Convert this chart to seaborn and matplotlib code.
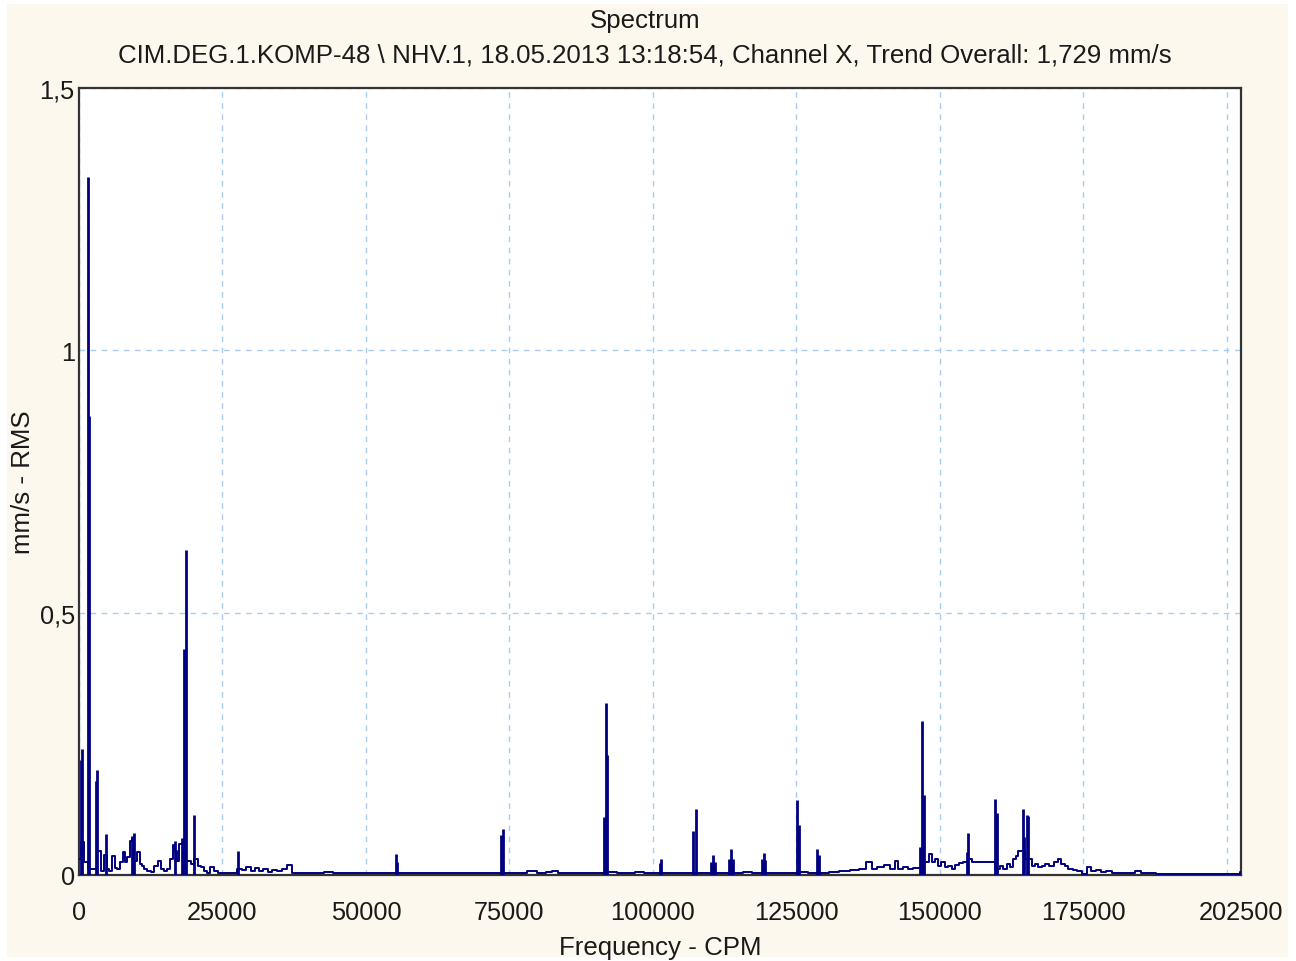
import numpy as np
import pandas as pd
import matplotlib
matplotlib.use("Agg")
import matplotlib.pyplot as plt
import seaborn as sns
from matplotlib.patches import Rectangle

# noise floor of the spectrum (CPM, mm/s RMS)
floor_cpm = [0, 700, 1150, 2100, 2600, 3600, 4000, 4650, 5100, 5520, 6100, 6390,
             6970, 7440, 7840, 8130, 8710, 9180, 9410, 9880, 10340, 10750, 11040,
             11620, 12200, 12780, 13470, 14060, 14520, 15100, 15680, 16150, 16560,
             16950, 17300, 17720, 19170, 19750, 20440, 20910, 21490, 22080, 22650,
             23130, 23820, 24500, 26000, 27200,
             28000, 28800, 29500, 30300, 31000, 31800, 32500, 33300, 34000, 35000,
             35800, 36800, 37500, 39000, 40500, 42000, 43500, 45000, 47000, 49000,
             51000, 53000, 54500, 56500, 58500, 60500, 62500, 64500, 66500, 68500,
             70500, 72500, 75000, 77000, 79300, 80500, 82200, 82800, 84000, 86000,
             88000, 90000, 93000, 94500, 96000, 97800, 99000, 100500, 102500, 104500,
             106000, 108500, 111500, 112500, 115000, 116500, 118000, 121000, 123000,
             124500, 126500, 127500, 130000, 131500, 133500, 135200, 136600, 137850,
             138500, 139600, 141000, 141800, 142500, 143100, 144000, 144800, 145800,
             148000, 148400, 148900, 149500, 150000, 150600, 151200, 151800, 152400,
             153000, 153800, 154400, 155300, 155800, 156400, 157300, 158200, 159000,
             160200, 160800, 161400, 162000, 162500, 163100, 163500, 163900, 165700,
             166300, 166900, 167500, 168000, 168600, 169500, 170300, 170900, 171500,
             172100, 172700, 173600, 174400, 175300, 175900, 176800, 177600, 178500,
             179500, 180500, 182000, 183500, 184600, 185500, 187000, 188500, 190000,
             192000, 194000, 196000, 198000, 200000, 202000, 202500]
floor_amp = [0.03, 0.063, 0.024, 0.011, 0.011, 0.046, 0.008, 0.038, 0.011, 0.008, 0.037, 0.013,
             0.011, 0.024, 0.043, 0.024, 0.034, 0.065, 0.068, 0.027, 0.043, 0.021, 0.018,
             0.011, 0.008, 0.006, 0.018, 0.027, 0.011, 0.008, 0.011, 0.03, 0.057,
             0.046, 0.027, 0.06, 0.027, 0.021, 0.03, 0.018, 0.015, 0.008, 0.004,
             0.015, 0.008, 0.004, 0.004, 0.004,
             0.012, 0.01, 0.015, 0.008, 0.013, 0.008, 0.012, 0.006, 0.01, 0.007,
             0.012, 0.02, 0.004, 0.003, 0.004, 0.003, 0.005, 0.003, 0.003, 0.004,
             0.003, 0.003, 0.003, 0.003, 0.004, 0.003, 0.003, 0.004, 0.003, 0.003,
             0.003, 0.003, 0.004, 0.003, 0.008, 0.003, 0.006, 0.008, 0.003, 0.003,
             0.003, 0.004, 0.006, 0.004, 0.004, 0.006, 0.003, 0.003, 0.003, 0.003,
             0.003, 0.003, 0.003, 0.004, 0.003, 0.005, 0.003, 0.003, 0.003,
             0.003, 0.006, 0.004, 0.004, 0.006, 0.008, 0.01, 0.012, 0.025,
             0.012, 0.015, 0.02, 0.012, 0.027, 0.011, 0.015, 0.011, 0.013,
             0.024, 0.04, 0.025, 0.03, 0.018, 0.024, 0.015, 0.018, 0.011,
             0.019, 0.023, 0.025, 0.03, 0.024, 0.025, 0.024, 0.025, 0.024,
             0.011, 0.018, 0.011, 0.021, 0.015, 0.03, 0.037, 0.046, 0.03,
             0.018, 0.021, 0.015, 0.018, 0.021, 0.018, 0.024, 0.03, 0.021,
             0.018, 0.011, 0.01, 0.008, 0.002, 0.015, 0.008, 0.01, 0.005,
             0.007, 0.004, 0.004, 0.003, 0.007, 0.003, 0.004, 0.002, 0.002,
             0.002, 0.002, 0.002, 0.002, 0.002, 0.002, 0.005]

# discrete spectral lines
peak_cpm = [300, 600, 1500, 1750, 2900, 3150, 4650, 9300, 9600, 16700, 18000, 18300,
            18600, 20000, 27650, 55200, 55400, 73600, 73850, 91550, 91850, 92100,
            101300, 101450, 107000, 107500, 110200, 110500, 110800, 113300, 113600,
            113900, 119000, 119300, 119600, 125200, 125500, 128600, 128900,
            146550, 146950, 147300, 154700, 154980, 159630, 159930, 164450,
            164750, 165150, 165430]
peak_amp = [0.22, 0.24, 1.33, 0.875, 0.18, 0.20, 0.078, 0.075, 0.08, 0.065, 0.07, 0.43,
            0.62, 0.114, 0.046, 0.04, 0.024, 0.076, 0.088, 0.11, 0.328, 0.229,
            0.023, 0.03, 0.084, 0.126, 0.025, 0.038, 0.025, 0.03, 0.05,
            0.03, 0.03, 0.042, 0.028, 0.142, 0.095, 0.05, 0.038,
            0.053, 0.294, 0.152, 0.044, 0.08, 0.145, 0.118, 0.126,
            0.072, 0.114, 0.112]

x_ticks = [0, 25000, 50000, 75000, 100000, 125000, 150000, 175000, 202500]
x_tick_labels = ["0", "25000", "50000", "75000", "100000", "125000", "150000", "175000", "202500"]
y_ticks = [0, 0.5, 1, 1.5]
y_tick_labels = ["0", "0,5", "1", "1,5"]

title = "Spectrum"
subtitle = "CIM.DEG.1.KOMP-48 \\ NHV.1, 18.05.2013 13:18:54, Channel X, Trend Overall: 1,729 mm/s"

sns.set_style("white")
plt.rcParams['font.family'] = ['Liberation Sans', 'DejaVu Sans']

line_col = "#000080"
grid_col = "#a8cdf0"
text_col = "#1a1a1a"
fs_tick = 18.3
fs_text = 18.6

fig = plt.figure(figsize=(12.96, 9.62), dpi=100, facecolor="white")
fig.patches.append(Rectangle((7 / 1296, 4 / 962), 1281 / 1296, 953 / 962,
                             transform=fig.transFigure, facecolor="#fdf8ed",
                             edgecolor="none", zorder=-10))
ax = fig.add_axes([79 / 1296, 86 / 962, 1162 / 1296, 787 / 962])
ax.set_facecolor("white")

df_floor = pd.DataFrame({"cpm": floor_cpm, "amp": floor_amp})
sns.lineplot(data=df_floor, x="cpm", y="amp", ax=ax, color=line_col,
             linewidth=1.4, drawstyle="steps-mid", zorder=3)
ax.vlines(peak_cpm, 0, peak_amp, color=line_col, linewidth=2.0, zorder=3)

ax.set_xlim(0, 202500)
ax.set_ylim(0, 1.5)
ax.set_xticks(x_ticks)
ax.set_xticklabels(x_tick_labels)
ax.set_xticks([200000], minor=True)
ax.set_yticks(y_ticks)
ax.set_yticklabels(y_tick_labels)
ax.tick_params(axis="x", which="both", length=0, pad=18, labelsize=fs_tick, colors=text_col)
ax.tick_params(axis="y", length=0, pad=3, labelsize=fs_tick, colors=text_col)
ax.grid(True, which="both", color=grid_col, linestyle=(0, (4, 4)), linewidth=1.0)
ax.set_axisbelow(True)

for s in ax.spines.values():
    s.set_visible(True)
    s.set_color("#333333")
    s.set_linewidth(1.6)

ax.set_xlabel("Frequency - CPM", fontsize=fs_text, color=text_col, labelpad=8)
ax.set_ylabel("mm/s - RMS", fontsize=fs_text, color=text_col, labelpad=3)

fig.text(645 / 1296, 1 - 21 / 962, title, ha="center", va="center", fontsize=fs_text, color=text_col)
fig.text(645 / 1296, 1 - 56 / 962, subtitle, ha="center", va="center", fontsize=fs_text, color=text_col)

fig.savefig("out.png", dpi=100, facecolor=fig.get_facecolor())
